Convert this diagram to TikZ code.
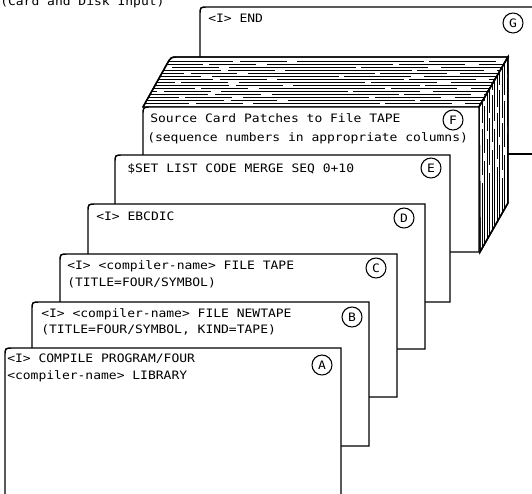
\documentclass[tikz,border=0pt]{standalone}
\usepackage{fontspec}
\newfontfamily\cardfont[FakeStretch=1.12]{DejaVu Sans Mono}
\begin{document}
\begin{tikzpicture}[x=0.75pt,y=-0.75pt,
  card/.style={draw=black, fill=white, line width=1.1pt, line join=miter},
  txt/.style={anchor=base west, inner sep=0pt, font=\cardfont\fontsize{8.7pt}{10pt}\selectfont},
  lab/.style={circle, draw=black, line width=0.8pt, minimum size=15pt, inner sep=0pt, fill=white,
    font=\cardfont\fontsize{8.7pt}{10pt}\selectfont},
  hatch/.style={line width=0.35pt}]
\useasboundingbox (0,0) rectangle (532,493);
\clip (0,0) rectangle (532,493);

% heading (cut off at top)
\node[txt] (head) at (0,5.5) {(Card and Disk Input)};

% card G
\path[card] (200,90) -- (200,15) .. controls (200,7) .. (208,7) -- (545,7);
\node[txt] (tG) at (208,22) {<I> END};
\node[lab] (cG) at (513,23) {G};

% line at right of deck
\draw[line width=1.1pt] (508,154) -- (545,154);

% deck top face
\path[card] (143,107) -- (167,64) .. controls (171,57) .. (178,57) -- (508,57) -- (479,107) -- cycle;
\begin{scope}
  \clip (143,107) -- (167,64) .. controls (171,57) .. (178,57) -- (508,57) -- (479,107) -- cycle;
  \foreach \yy/\ph in {61/0,64/23,67/51,70/9,73/37,76/64,79/15,82/44,85/3,88/29,91/57,94/19,97/41,100/7,103/33}{
    \draw[hatch, dash pattern=on 70 off 5 on 35 off 8 on 95 off 4 on 50 off 10, dash phase=\ph] (140,\yy) -- (510,\yy);
  }
\end{scope}
\draw[line width=1.1pt, line join=miter] (143,107) -- (167,64) .. controls (171,57) .. (178,57) -- (508,57) -- (479,107);

% deck right face
\path[card] (479,107) -- (508,57) -- (508,203) -- (480,252) -- cycle;
\begin{scope}
  \clip (479,107) -- (508,57) -- (508,203) -- (480,252) -- cycle;
  \foreach \xx/\ph in {482/0,484.5/17,487/33,489.5/8,492/25,494.5/41,497/12,499.5/29,502/4,504.5/21,507/37}{
    \draw[hatch, dash pattern=on 55 off 4 on 35 off 6 on 75 off 3, dash phase=\ph] (\xx,50) -- (\xx,260);
  }
\end{scope}
\draw[line width=1.1pt, line join=miter] (479,107) -- (508,57) -- (508,203) -- (480,252) -- cycle;

% card F (front of deck)
\path[card] (143,252) -- (143,115) .. controls (143,107) .. (151,107) -- (479,107) -- (479,252) -- cycle;
\node[txt] (tF1) at (150,122) {Source Card Patches to File TAPE};
\node[txt] (tF2) at (147,141) {(sequence numbers in appropriate columns)};
\node[lab] (cF) at (453,120) {F};

% card E
\path[card] (115,302) -- (115,163) .. controls (115,155) .. (123,155) -- (450,155) -- (450,302) -- cycle;
\node[txt] (tE) at (127,172) {\$SET LIST CODE MERGE SEQ 0+10};
\node[lab] (cE) at (431,168) {E};

% card D
\path[card] (88,349) -- (88,212) .. controls (88,204) .. (96,204) -- (425,204) -- (425,349) -- cycle;
\node[txt] (tD) at (96,220) {<I> EBCDIC};
\node[lab] (cD) at (404,218) {D};

% card C
\path[card] (60,397) -- (60,262) .. controls (60,254) .. (68,254) -- (397,254) -- (397,397) -- cycle;
\node[txt] (tC1) at (67,269) {<I> <compiler-name> FILE TAPE};
\node[txt] (tC2) at (67,286) {(TITLE=FOUR/SYMBOL)};
\node[lab] (cC) at (376,268) {C};

% card B
\path[card] (32,446) -- (32,310) .. controls (32,302) .. (40,302) -- (369,302) -- (369,446) -- cycle;
\node[txt] (tB1) at (41,317) {<I> <compiler-name> FILE NEWTAPE};
\node[txt] (tB2) at (41,333) {(TITLE=FOUR/SYMBOL, KIND=TAPE)};
\node[lab] (cB) at (352,317) {B};

% card A
\path[card] (5,520) -- (5,356) .. controls (5,348) .. (13,348) -- (341,348) -- (341,520) -- cycle;
\node[txt] (tA1) at (7,362) {<I> COMPILE PROGRAM/FOUR};
\node[txt] (tA2) at (7,379) {<compiler-name> LIBRARY};
\node[lab] (cA) at (322,365) {A};
\end{tikzpicture}
\end{document}
